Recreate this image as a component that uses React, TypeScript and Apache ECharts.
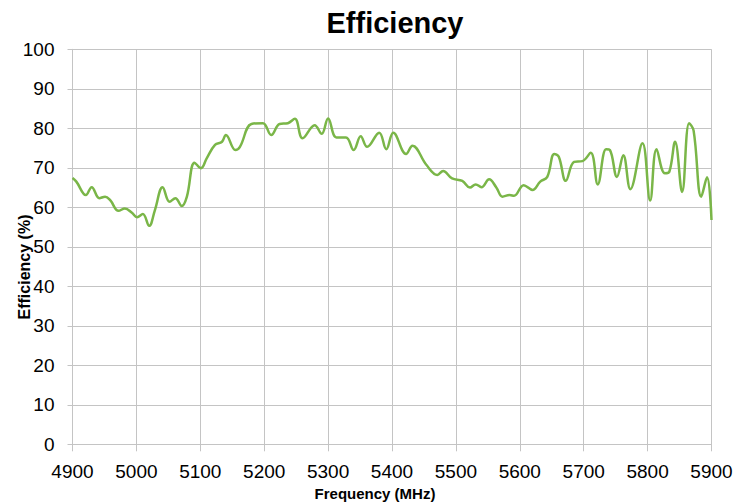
import React, { useEffect, useRef } from "react";
import * as echarts from "echarts";

const titleText = "Efficiency";
const xAxisName = "Frequency (MHz)";
const yAxisName = "Efficiency (%)";

const frequencies = [
  4900, 4906, 4921, 4930, 4942, 4951, 4959, 4972, 4982, 4993, 5001, 5010, 5020, 5029, 5041, 5052, 5061, 5071, 5079,
  5091, 5101, 5110, 5123, 5134, 5140, 5155, 5162, 5180, 5198, 5211, 5224, 5237, 5248, 5260, 5279, 5290, 5300, 5313,
  5328, 5340, 5351, 5361, 5380, 5391, 5402, 5422, 5432, 5454, 5471, 5480, 5494, 5510, 5522, 5531, 5540, 5552, 5563,
  5573, 5584, 5591, 5606, 5620, 5632, 5643, 5654, 5661, 5672, 5685, 5698, 5711, 5722, 5735, 5741, 5752, 5762, 5773,
  5792, 5804, 5814, 5827, 5834, 5843, 5854, 5865, 5872, 5884, 5893, 5900,
];

const efficiency = [
  67.4, 66.5, 63.1, 65.1, 62.3, 62.7, 61.8, 59.1, 59.7, 58.6, 57.5, 58.3, 55.3, 59.3, 65.1, 61.4, 62.3, 60.3, 62.7,
  71.3, 69.9, 72.4, 75.8, 76.6, 78.3, 74.5, 75.3, 81.1, 81.3, 78.3, 81.1, 81.3, 82.4, 77.5, 80.8, 78.6, 82.5, 77.7,
  77.7, 74.5, 78.0, 75.3, 78.9, 74.7, 78.9, 73.5, 75.6, 70.7, 68.2, 69.2, 67.3, 66.7, 65.0, 65.8, 65.1, 67.1, 65.1,
  62.7, 63.1, 62.9, 65.6, 64.4, 66.5, 67.7, 73.5, 72.8, 66.7, 71.5, 71.7, 73.8, 65.8, 74.7, 74.5, 67.7, 73.2, 64.6,
  76.2, 61.7, 74.7, 68.6, 69.0, 76.6, 63.9, 81.3, 79.4, 62.7, 67.6, 56.8,
];

const FONT = "'Liberation Sans', Arial, sans-serif";
const GRID_COLOR = "#c4c4c4";

export default function App() {
  const ref = useRef<HTMLDivElement>(null);

  useEffect(() => {
    if (!ref.current) return;
    const chart = echarts.init(ref.current, null, { renderer: "svg" });
    const data = frequencies.map((f, i) => [f, efficiency[i]]);
    chart.setOption({
      animation: false,
      backgroundColor: "#ffffff",
      title: {
        text: titleText,
        left: 390,
        textAlign: "center",
        top: 3,
        textStyle: { fontFamily: FONT, fontWeight: "bold", fontSize: 29, color: "#000" },
      },
      graphic: [
        {
          type: "text",
          x: 375,
          y: 493,
          style: {
            text: xAxisName,
            font: `bold 15px ${FONT}`,
            fill: "#000",
            align: "center",
            verticalAlign: "middle",
          },
        },
        {
          type: "text",
          x: 24,
          y: 267,
          rotation: Math.PI / 2,
          style: {
            text: yAxisName,
            font: `bold 16px ${FONT}`,
            fill: "#000",
            align: "center",
            verticalAlign: "middle",
          },
        },
      ],
      grid: { left: 72.5, right: 40.5, top: 49.3, bottom: 59.7, containLabel: false },
      xAxis: {
        type: "value",
        min: 4900,
        max: 5900,
        interval: 100,
        axisLine: { show: true, onZero: false, lineStyle: { color: GRID_COLOR, width: 1 } },
        axisTick: { show: true, length: 7, lineStyle: { color: GRID_COLOR } },
        axisLabel: { fontFamily: FONT, fontSize: 19, color: "#000", margin: 18, formatter: (v: number) => String(v) },
        splitLine: { show: true, lineStyle: { color: GRID_COLOR, width: 1 } },
      },
      yAxis: {
        type: "value",
        min: 0,
        max: 100,
        interval: 10,
        axisLine: { show: true, lineStyle: { color: GRID_COLOR, width: 1 } },
        axisTick: { show: true, length: 5, lineStyle: { color: GRID_COLOR } },
        axisLabel: { fontFamily: FONT, fontSize: 19, color: "#000", margin: 18 },
        splitLine: { show: true, lineStyle: { color: GRID_COLOR, width: 1 } },
      },
      series: [
        {
          type: "line",
          data,
          smooth: 0.4,
          showSymbol: false,
          symbol: "none",
          lineStyle: { color: "#7ab648", width: 2.5 },
        },
      ],
    });
    return () => chart.dispose();
  }, []);

  return <div ref={ref} style={{ position: "fixed", left: 0, top: 0, width: 752, height: 504 }} />;
}
